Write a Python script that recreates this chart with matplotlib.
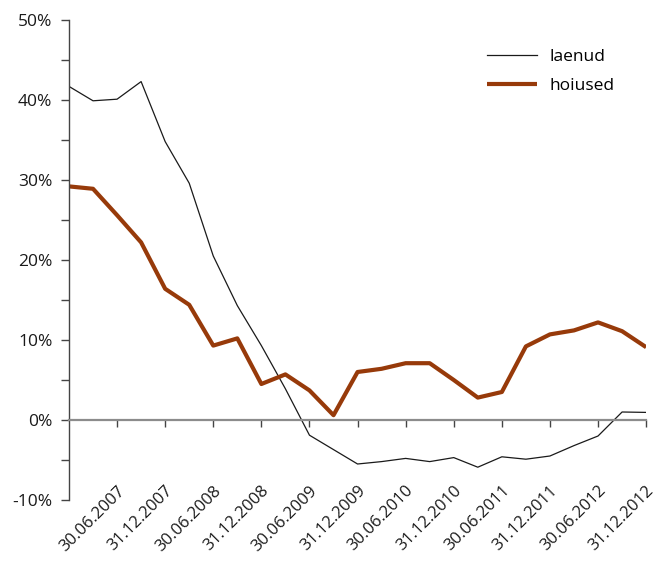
import numpy as np
import pandas as pd
import matplotlib
matplotlib.use("Agg")
import matplotlib.pyplot as plt
import matplotlib.transforms as mtransforms

plt.rcParams['font.family'] = ['Open Sans', 'DejaVu Sans']

# quarterly data, 31.12.2006 - 31.12.2012 (annual growth, %)
quarters = pd.date_range("2006-12-31", "2012-12-31", freq="QE")
laenud = [41.7, 39.9, 40.1, 42.3, 34.8, 29.6, 20.5, 14.3, 9.3, 3.9, -1.9, -3.7,
          -5.5, -5.2, -4.8, -5.2, -4.7, -5.9, -4.6, -4.9, -4.5, -3.2, -2.0, 1.0, 0.95]
hoiused = [29.2, 28.9, 25.6, 22.2, 16.4, 14.4, 9.3, 10.2, 4.5, 5.7, 3.7, 0.6,
           6.0, 6.4, 7.1, 7.1, 5.0, 2.8, 3.5, 9.2, 10.7, 11.2, 12.2, 11.1, 9.1]

x = np.arange(len(quarters))
tick_idx = x[2::2]
tick_labels = [quarters[i].strftime("%d.%m.%Y") for i in tick_idx]

fig = plt.figure(figsize=(6.6, 5.63), dpi=100)
ax = fig.add_axes([0.1045, 0.1119, 0.8745, 0.8526])

ax.plot(x, laenud, color='#1a1a1a', lw=0.9, label='laenud')
ax.plot(x, hoiused, color='#973a0a', lw=3.0, solid_capstyle='butt', label='hoiused')

ax.set_xlim(0, 24)
ax.set_ylim(-10, 50)

for s in ['top', 'right']:
    ax.spines[s].set_visible(False)
ax.spines['left'].set_color('#444444')
ax.spines['left'].set_linewidth(1.0)
ax.spines['bottom'].set_position(('data', 0))
ax.spines['bottom'].set_color('#8c8c8c')
ax.spines['bottom'].set_linewidth(1.6)

ax.set_yticks(np.arange(-10, 51, 10))
ax.set_yticks(np.arange(-5, 50, 10), minor=True)
ax.set_yticklabels([f"{v}%" for v in range(-10, 51, 10)], fontsize=12.5, color='#1a1a1a')
ax.tick_params(axis='y', which='both', direction='out', length=6, width=1.0,
               color='#444444', pad=6)

ax.set_xticks(tick_idx)
ax.tick_params(axis='x', direction='out', length=5, width=1.0, color='#444444',
               labelbottom=False)

# date labels sit below the plot area
off = mtransforms.ScaledTranslation(11 / 100, 0, fig.dpi_scale_trans)
trans = mtransforms.blended_transform_factory(ax.transData, ax.transAxes) + off
for i, lab in zip(tick_idx, tick_labels):
    ax.text(i, 0.036, lab, transform=trans, rotation=45, ha='right', va='top',
            fontsize=12, color='#1a1a1a')

ax.legend(loc='upper left', bbox_to_anchor=(0.738, 0.913), bbox_transform=fig.transFigure,
          frameon=False, fontsize=12.5, handlelength=2.9, handletextpad=0.7,
          labelspacing=0.75, borderpad=0, borderaxespad=0)

fig.savefig("out.png", dpi=100)
